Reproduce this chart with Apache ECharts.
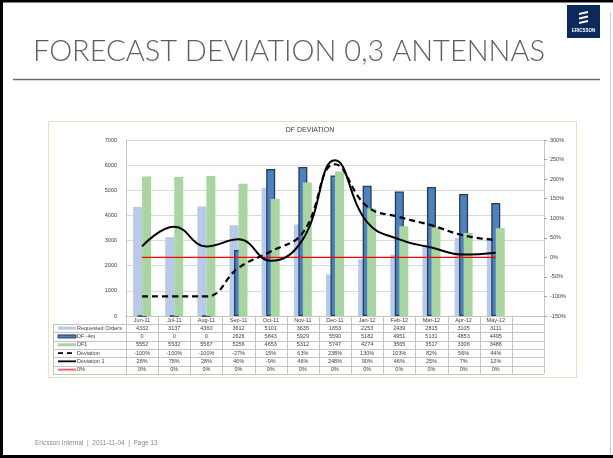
<!DOCTYPE html>
<html>
<head>
<meta charset="utf-8">
<script src="https://cdn.jsdelivr.net/npm/echarts/dist/echarts.min.js"></script>
<style>
html,body{margin:0;padding:0;background:#fff;}
#main{width:613px;height:458px;}
</style>
</head>
<body>
<div id="main"></div>
<script>
// data
var months = ['Jun-11','Jul-11','Aug-11','Sep-11','Oct-11','Nov-11','Dec-11','Jan-12','Feb-12','Mar-12','Apr-12','May-12'];
var requestedOrders = [4332,3137,4360,3612,5101,3635,1653,2253,2439,2815,3105,3111];
var dfMinus4m = [0,0,0,2626,5843,5929,5590,5182,4951,5131,4853,4495];
var df1 = [5552,5532,5567,5256,4653,5312,5747,4274,3565,3517,3306,3486];
var deviation = [-100,-100,-100,-27,15,63,238,130,103,82,56,44];
var deviation1 = [28,78,28,46,-9,46,248,90,46,25,7,12];
var zeroLine = [0,0,0,0,0,0,0,0,0,0,0,0];

var G_LEFT = 126, G_TOP = 140, G_W = 418, G_H = 176;
var NCOL = 13;
var colW = G_W / NCOL;
var rowH = 8.3;
var tblTop = G_TOP + G_H;
var hdrBot = tblTop + 8;
var LBL_LEFT = 53;
var FONT = 'Liberation Sans, Arial, sans-serif';

var cats = months.concat(['']);

var tableRows = [
    {name: 'Requested Orders', vals: requestedOrders, pct: false, key: 'lav'},
    {name: 'DF -4m', vals: dfMinus4m, pct: false, key: 'blue'},
    {name: 'DF1', vals: df1, pct: false, key: 'green'},
    {name: 'Deviation', vals: deviation, pct: true, key: 'dash'},
    {name: 'Deviation 1', vals: deviation1, pct: true, key: 'solid'},
    {name: '0%', vals: zeroLine, pct: true, key: 'red'}
];

function ln(x1, y1, x2, y2, c, w, dash) {
    return {type: 'line', silent: true, shape: {x1: x1, y1: y1, x2: x2, y2: y2},
        style: {stroke: c, lineWidth: w || 1, lineDash: dash || null}};
}
function txt(x, y, s, size, color, align, extra) {
    var st = {text: s, fill: color, fontSize: size, fontFamily: FONT,
        align: align, textAlign: align, verticalAlign: 'middle', textVerticalAlign: 'middle'};
    if (extra) for (var k in extra) st[k] = extra[k];
    return {type: 'text', silent: true, x: x, y: y, style: st};
}

var g = [];
// slide frame
g.push(ln(0, 1, 613, 1, '#000', 3));
g.push(ln(1.5, 0, 1.5, 458, '#000', 3));
g.push(ln(0, 456.5, 613, 456.5, '#000', 3));
g.push(ln(610.5, 12, 610.5, 455, '#c8c8c8', 1));
// title + rule
g.push(txt(33, 52, 'FORECAST DEVIATION 0,3 ANTENNAS', 29, '#5e5e5e', 'left', {fontFamily: 'Lato', fontWeight: 300}));
g.push(ln(13, 79.5, 600, 79.5, '#6d6d6d', 1.5));
// logo
g.push({type: 'rect', silent: true, shape: {x: 567, y: 5, width: 33, height: 33}, style: {fill: '#0b2a5b'}});
[0, 1, 2].forEach(function (k) {
    var y0 = 11 + k * 4.5;
    g.push({type: 'polygon', silent: true, shape: {points: [[579, y0 + 2], [588, y0], [588, y0 + 2], [579, y0 + 4]]}, style: {fill: '#fff'}});
});
g.push(txt(583.5, 31, 'ERICSSON', 4.5, '#fff', 'center', {fontWeight: 'bold'}));
// footer
g.push(txt(35, 443, 'Ericsson Internal  |  2011-11-04  |  Page 13', 6.5, '#8a8a8a', 'left'));
// chart box
g.push({type: 'rect', silent: true, shape: {x: 48.5, y: 121.5, width: 528, height: 256},
    style: {fill: 'none', stroke: '#dfe3c2', lineWidth: 1}});
g.push(txt(310, 130, 'DF DEVIATION', 7, '#404040', 'center'));

// data table
var tblBot = hdrBot + tableRows.length * rowH;
for (var i = 0; i <= NCOL; i++) {
    var x = Math.round(G_LEFT + i * colW) + 0.5;
    g.push(ln(x, tblTop, x, tblBot, '#c4c4c4', 1));
}
for (var r = 0; r <= tableRows.length; r++) {
    var y = Math.round(hdrBot + r * rowH) + 0.5;
    g.push(ln(LBL_LEFT, y, G_LEFT + G_W, y, '#c4c4c4', 1));
}
g.push(ln(LBL_LEFT + 0.5, hdrBot, LBL_LEFT + 0.5, tblBot, '#c4c4c4', 1));
months.forEach(function (m, i) {
    g.push(txt(G_LEFT + (i + 0.5) * colW, tblTop + 4, m, 5.5, '#404040', 'center'));
});
tableRows.forEach(function (row, r) {
    var yc = hdrBot + (r + 0.5) * rowH;
    var k0 = 58, k1 = 76;
    if (row.key === 'lav') g.push({type: 'rect', silent: true, shape: {x: k0, y: yc - 1.5, width: k1 - k0, height: 3}, style: {fill: '#b9c9e8'}});
    if (row.key === 'blue') g.push({type: 'rect', silent: true, shape: {x: k0, y: yc - 1.5, width: k1 - k0, height: 3}, style: {fill: '#4f81bd', stroke: '#243c5e', lineWidth: 1}});
    if (row.key === 'green') g.push({type: 'rect', silent: true, shape: {x: k0, y: yc - 1.5, width: k1 - k0, height: 3}, style: {fill: '#a9d5a0'}});
    if (row.key === 'dash') g.push(ln(k0, yc, k1, yc, '#000', 1.8, [5, 4]));
    if (row.key === 'solid') g.push(ln(k0, yc, k1, yc, '#000', 1.8));
    if (row.key === 'red') g.push(ln(k0, yc, k1, yc, '#ff5a5a', 1.8));
    g.push(txt(77, yc, row.name, 5.5, '#404040', 'left'));
    row.vals.forEach(function (v, i) {
        g.push(txt(G_LEFT + (i + 0.5) * colW, yc, row.pct ? v + '%' : String(v), 5.5, '#404040', 'center'));
    });
});

var chart = echarts.init(document.getElementById('main'));
var option = {
    animation: false,
    textStyle: {fontFamily: FONT},
    grid: {left: G_LEFT, top: G_TOP, width: G_W, height: G_H},
    xAxis: {
        type: 'category', data: cats,
        axisLine: {lineStyle: {color: '#c4c4c4'}},
        axisTick: {show: false}, axisLabel: {show: false}
    },
    yAxis: [
        {
            type: 'value', min: 0, max: 7000, interval: 1000,
            axisLine: {show: true, lineStyle: {color: '#c4c4c4'}},
            axisTick: {show: false},
            axisLabel: {fontSize: 5.5, color: '#404040', margin: 9,
                formatter: function (v) { return String(v); }},
            splitLine: {lineStyle: {color: '#dadada'}}
        },
        {
            type: 'value', min: -150, max: 300, interval: 50, position: 'right',
            axisLine: {show: true, lineStyle: {color: '#c4c4c4'}},
            axisTick: {show: true, length: 3, lineStyle: {color: '#a0a0a0'}},
            axisLabel: {fontSize: 5.5, color: '#404040', margin: 6, formatter: '{value}%'},
            splitLine: {show: false}
        }
    ],
    series: [
        {name: 'Requested Orders', type: 'bar', data: requestedOrders, barWidth: 9, barGap: '-50%',
            itemStyle: {color: '#b9c9e8'}},
        {name: 'DF -4m', type: 'bar', data: dfMinus4m, barWidth: 9, barGap: '-50%',
            itemStyle: {color: '#4f81bd', borderColor: '#243c5e', borderWidth: 1.3}},
        {name: 'DF1', type: 'bar', data: df1, barWidth: 9, barGap: '-50%',
            itemStyle: {color: '#a9d5a0'}},
        {name: '0%', type: 'line', yAxisIndex: 1, data: zeroLine, symbol: 'none',
            lineStyle: {color: '#ff0000', width: 1.3}},
        {name: 'Deviation', type: 'line', yAxisIndex: 1, data: deviation, symbol: 'none', smooth: 0.45,
            lineStyle: {color: '#000', width: 2.2, type: [6, 4]}},
        {name: 'Deviation 1', type: 'line', yAxisIndex: 1, data: deviation1, symbol: 'none', smooth: 0.45,
            lineStyle: {color: '#000', width: 2}}
    ],
    graphic: g
};
chart.setOption(option);
</script>
</body>
</html>
